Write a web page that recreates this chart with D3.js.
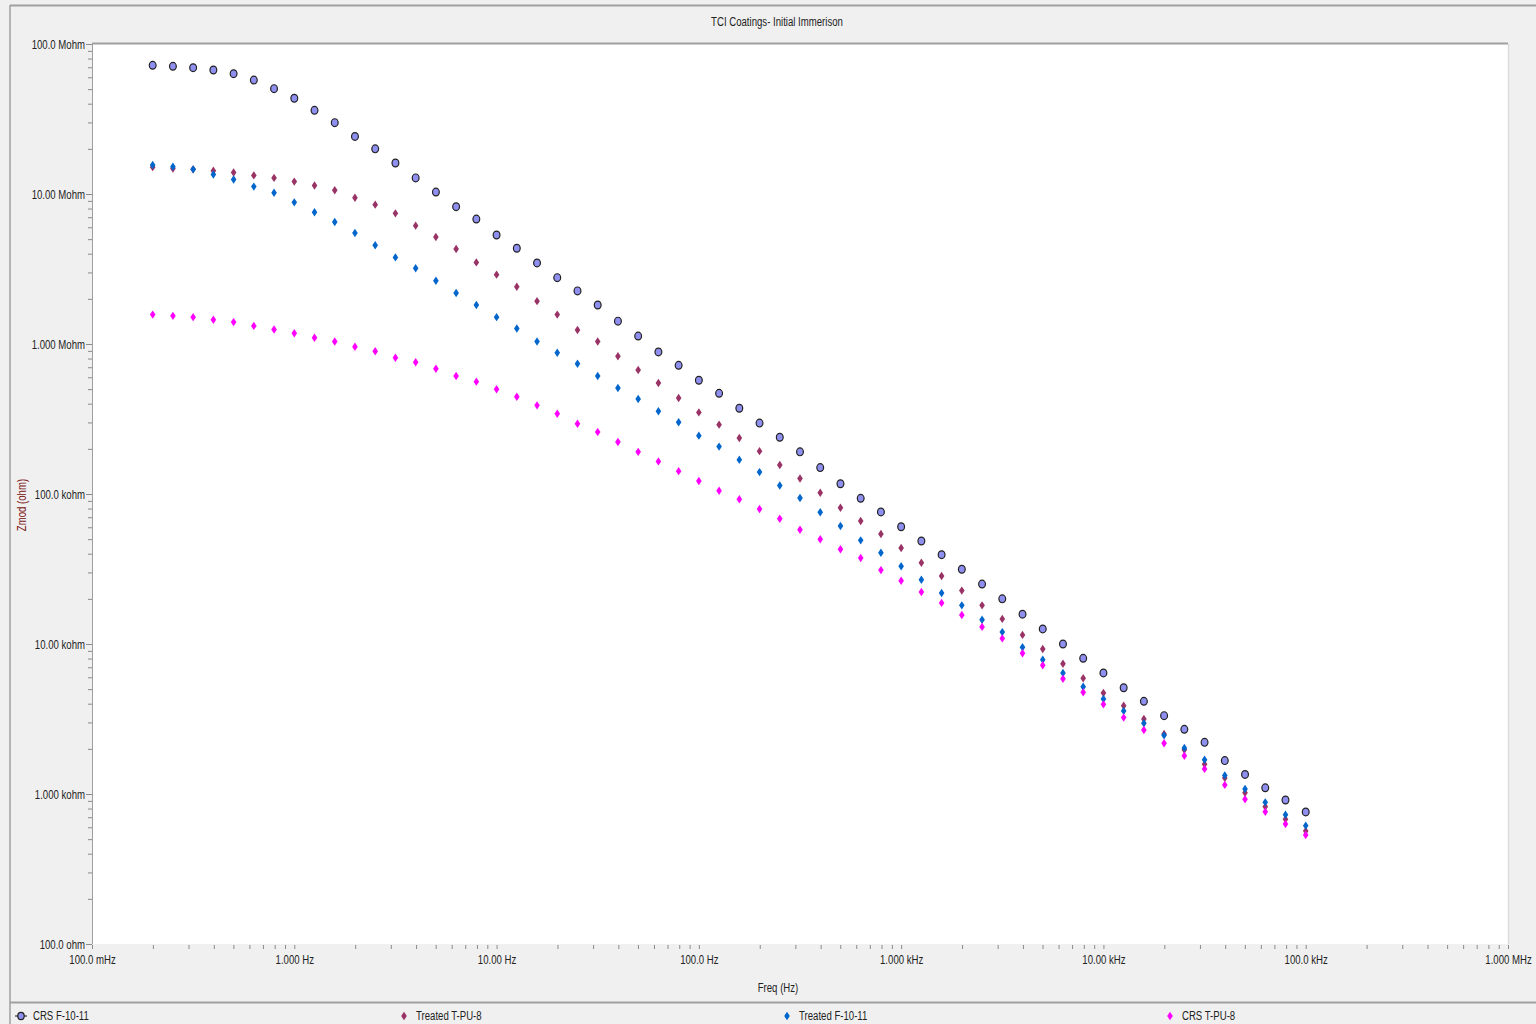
<!DOCTYPE html>
<html>

<head>
  <title>TCI Coatings- Initial Immerison</title>
  <meta charset="utf-8">
  <script src="https://d3js.org/d3.v7.min.js"></script>
  <style>
    body {
      margin: 0;
      background: #f0f0f0;
    }
    svg text {
      font-family: "Liberation Sans", Arial, sans-serif;
      font-size: 12px;
      fill: #222;
    }
    .axis path {
      display: none;
    }
    .axis line {
      stroke: #8a8a8a;
    }
  </style>
</head>

<body>
  <svg id="chart" width="1536" height="1024"></svg>
  <script>

    var title = "TCI Coatings- Initial Immerison";
    var seriesNames = ["CRS F-10-11", "Treated T-PU-8", "Treated F-10-11", "CRS T-PU-8"];

    // frequency (Hz), 10 points per decade
    var freq = [0.1995, 0.2512, 0.3162, 0.3981, 0.5012, 0.631, 0.7943,
      1, 1.259, 1.585, 1.995, 2.512, 3.162, 3.981, 5.012, 6.31, 7.943,
      10, 12.59, 15.85, 19.95, 25.12, 31.62, 39.81, 50.12, 63.1, 79.43,
      100, 125.9, 158.5, 199.5, 251.2, 316.2, 398.1, 501.2, 631, 794.3,
      1000, 1259, 1585, 1995, 2512, 3162, 3981, 5012, 6310, 7943,
      10000, 12590, 15850, 19950, 25120, 31620, 39810, 50120, 63100, 79430,
      100000];

    // Zmod (ohm)
    var zCrsF1011 = [7.21e7, 7.10e7, 6.95e7, 6.71e7, 6.34e7, 5.75e7, 5.04e7, 4.35e7, 3.61e7, 2.99e7,
      2.42e7, 2.00e7, 1.61e7, 1.28e7, 1.03e7, 8.23e6, 6.81e6, 5.33e6, 4.35e6, 3.47e6,
      2.77e6, 2.26e6, 1.82e6, 1.42e6, 1.13e6, 8.85e5, 7.21e5, 5.73e5, 4.69e5, 3.73e5,
      2.97e5, 2.39e5, 1.91e5, 1.50e5, 1.17e5, 9.36e4, 7.59e4, 6.05e4, 4.86e4, 3.94e4,
      3.15e4, 2.51e4, 2.00e4, 1.58e4, 1.26e4, 1.00e4, 8.03e3, 6.41e3, 5.11e3, 4.15e3,
      3.33e3, 2.70e3, 2.21e3, 1.67e3, 1.35e3, 1.10e3, 912, 759];
    var zTreatedTPU8 = [1.51e7, 1.48e7, 1.46e7, 1.43e7, 1.39e7, 1.33e7, 1.28e7, 1.21e7, 1.14e7, 1.06e7,
      9.45e6, 8.49e6, 7.43e6, 6.15e6, 5.17e6, 4.30e6, 3.50e6, 2.90e6, 2.41e6, 1.93e6,
      1.57e6, 1.24e6, 1.04e6, 8.28e5, 6.71e5, 5.50e5, 4.37e5, 3.50e5, 2.90e5, 2.36e5,
      1.93e5, 1.56e5, 1.27e5, 1.02e5, 8.10e4, 6.61e4, 5.41e4, 4.37e4, 3.48e4, 2.84e4,
      2.27e4, 1.81e4, 1.47e4, 1.15e4, 9.26e3, 7.39e3, 5.91e3, 4.71e3, 3.88e3, 3.16e3,
      2.51e3, 1.97e3, 1.58e3, 1.28e3, 1.02e3, 823, 678, 567];
    var zTreatedF1011 = [1.56e7, 1.52e7, 1.46e7, 1.35e7, 1.25e7, 1.12e7, 1.02e7, 8.80e6, 7.55e6, 6.51e6,
      5.50e6, 4.55e6, 3.78e6, 3.20e6, 2.64e6, 2.19e6, 1.82e6, 1.51e6, 1.27e6, 1.04e6,
      8.75e5, 7.39e5, 6.12e5, 5.09e5, 4.30e5, 3.56e5, 3.01e5, 2.45e5, 2.07e5, 1.69e5,
      1.40e5, 1.14e5, 9.40e4, 7.55e4, 6.12e4, 4.91e4, 4.06e4, 3.30e4, 2.68e4, 2.19e4,
      1.81e4, 1.45e4, 1.20e4, 9.51e3, 7.86e3, 6.41e3, 5.19e3, 4.30e3, 3.58e3, 2.96e3,
      2.46e3, 2.03e3, 1.69e3, 1.33e3, 1.08e3, 880, 728, 615];
    var zCrsTPU8 = [1.57e6, 1.54e6, 1.51e6, 1.45e6, 1.40e6, 1.32e6, 1.25e6, 1.18e6, 1.10e6, 1.04e6,
      9.59e5, 8.94e5, 8.10e5, 7.55e5, 6.84e5, 6.12e5, 5.61e5, 4.99e5, 4.45e5, 3.90e5,
      3.43e5, 2.94e5, 2.59e5, 2.22e5, 1.91e5, 1.65e5, 1.42e5, 1.22e5, 1.05e5, 9.22e4,
      7.94e4, 6.84e4, 5.78e4, 4.99e4, 4.28e4, 3.74e4, 3.11e4, 2.64e4, 2.22e4, 1.88e4,
      1.56e4, 1.30e4, 1.09e4, 8.67e3, 7.21e3, 5.87e3, 4.76e3, 3.96e3, 3.23e3, 2.67e3,
      2.18e3, 1.80e3, 1.47e3, 1.15e3, 922, 762, 631, 533];

    var xTickValues = [0.1, 1, 10, 100, 1e3, 1e4, 1e5, 1e6];
    var xTickLabels = ["100.0 mHz", "1.000 Hz", "10.00 Hz", "100.0 Hz", "1.000 kHz", "10.00 kHz", "100.0 kHz", "1.000 MHz"];
    var yTickValues = [100, 1e3, 1e4, 1e5, 1e6, 1e7, 1e8];
    var yTickLabels = ["100.0 ohm", "1.000 kohm", "10.00 kohm", "100.0 kohm", "1.000 Mohm", "10.00 Mohm", "100.0 Mohm"];

    var colors = ["#8f8ff0", "#993366", "#0066cc", "#ff00ff"];
    var allZ = [zCrsF1011, zTreatedTPU8, zTreatedF1011, zCrsTPU8];

    var svg = d3.select("#chart");
    var plotL = 92, plotR = 1508, plotT = 44, plotB = 944;

    var x = d3.scaleLog().domain([0.1, 1e6]).range([plotL, plotR]);
    var y = d3.scaleLog().domain([100, 1e8]).range([plotB, plotT]);

    // frame
    svg.append("line").attr("x1", 10).attr("x2", 1536).attr("y1", 5.5).attr("y2", 5.5)
      .attr("stroke", "#a0a0a0").attr("stroke-width", 2);
    svg.append("line").attr("x1", 10).attr("x2", 10).attr("y1", 5).attr("y2", 1024)
      .attr("stroke", "#a0a0a0").attr("stroke-width", 1.5);
    svg.append("line").attr("x1", 10).attr("x2", 1536).attr("y1", 1002.5).attr("y2", 1002.5)
      .attr("stroke", "#a0a0a0").attr("stroke-width", 2);

    svg.append("text").attr("x", 777).attr("y", 26).attr("text-anchor", "middle").text(title);

    // plot area
    svg.append("rect").attr("x", plotL).attr("y", plotT).attr("width", plotR - plotL).attr("height", plotB - plotT)
      .attr("fill", "#fff");
    svg.append("line").attr("x1", plotL).attr("x2", plotR).attr("y1", plotT - 0.5).attr("y2", plotT - 0.5)
      .attr("stroke", "#a0a0a0").attr("stroke-width", 2);
    svg.append("line").attr("x1", plotL + 0.5).attr("x2", plotL + 0.5).attr("y1", plotT).attr("y2", plotB)
      .attr("stroke", "#a0a0a0");
    svg.append("line").attr("x1", plotR + 0.5).attr("x2", plotR + 0.5).attr("y1", plotT).attr("y2", plotB)
      .attr("stroke", "#dcdcdc").attr("stroke-width", 1.5);

    function decadeTicks(lo, hi) {
      var out = [];
      for (var d = lo; d < hi; d *= 10) {
        for (var k = 1; k < 10; k++) out.push(d * k);
      }
      out.push(hi);
      return out;
    }
    function labelIndex(list, d) {
      return list.findIndex(function (v) { return Math.abs(v - d) / v < 1e-6; });
    }

    var yAxis = d3.axisLeft(y)
      .tickValues(decadeTicks(100, 1e8))
      .tickSize(5)
      .tickPadding(2)
      .tickFormat(function (d) {
        var i = labelIndex(yTickValues, d);
        return i >= 0 ? yTickLabels[i] : "";
      });
    var gy = svg.append("g").attr("class", "axis").attr("transform", "translate(" + plotL + ",0)").call(yAxis);
    gy.selectAll(".tick line").attr("x2", function (d) {
      return labelIndex(yTickValues, d) >= 0 ? -6 : -4;
    });
    gy.selectAll(".tick text").attr("dy", "0.35em");

    var xAxis = d3.axisBottom(x)
      .tickValues(decadeTicks(0.1, 1e6))
      .tickSize(4)
      .tickPadding(6)
      .tickFormat(function (d) {
        var i = labelIndex(xTickValues, d);
        return i >= 0 ? xTickLabels[i] : "";
      });
    svg.append("g").attr("class", "axis").attr("transform", "translate(0," + (plotB + 1) + ")").call(xAxis);

    svg.append("text").attr("x", 778).attr("y", 992).attr("text-anchor", "middle").text("Freq (Hz)");
    svg.append("text").attr("transform", "translate(26,505) rotate(-90)").attr("text-anchor", "middle")
      .style("fill", "#7a1010").text("Zmod (ohm)");

    var diamond = "M0,-4.2L2.8,0L0,4.2L-2.8,0Z";

    allZ.forEach(function (zs, s) {
      var g = svg.append("g");
      var pts = g.selectAll("path").data(zs).enter();
      if (s === 0) {
        pts.append("ellipse")
          .attr("cx", function (d, i) { return x(freq[i]); })
          .attr("cy", function (d) { return y(d); })
          .attr("rx", 3.4).attr("ry", 3.9)
          .attr("fill", colors[0]).attr("stroke", "#222").attr("stroke-width", 1.2);
      } else {
        pts.append("path")
          .attr("d", diamond)
          .attr("transform", function (d, i) { return "translate(" + x(freq[i]) + "," + y(d) + ")"; })
          .attr("fill", colors[s]);
      }
    });

    // legend
    var legendX = [21, 404, 787, 1170];
    var lg = svg.append("g").selectAll("g").data(seriesNames).enter().append("g")
      .attr("transform", function (d, i) { return "translate(" + legendX[i] + ",1016)"; });
    lg.each(function (d, i) {
      var g = d3.select(this);
      if (i === 0) {
        g.append("line").attr("x1", -6).attr("x2", 6).attr("stroke", "#333").attr("stroke-width", 1.2);
        g.append("ellipse").attr("rx", 3.2).attr("ry", 3.6).attr("fill", colors[0])
          .attr("stroke", "#222").attr("stroke-width", 1.2);
      } else {
        g.append("path").attr("d", diamond).attr("fill", colors[i]);
      }
      g.append("text").attr("x", 12).attr("dy", "0.35em").text(d);
    });

    // the source uses a narrow face; squeeze the glyphs to match
    svg.selectAll("text").each(function () {
      var w = this.getComputedTextLength();
      if (w > 0) d3.select(this).attr("textLength", w * 0.8).attr("lengthAdjust", "spacingAndGlyphs");
    });

  </script>

</body>

</html>
